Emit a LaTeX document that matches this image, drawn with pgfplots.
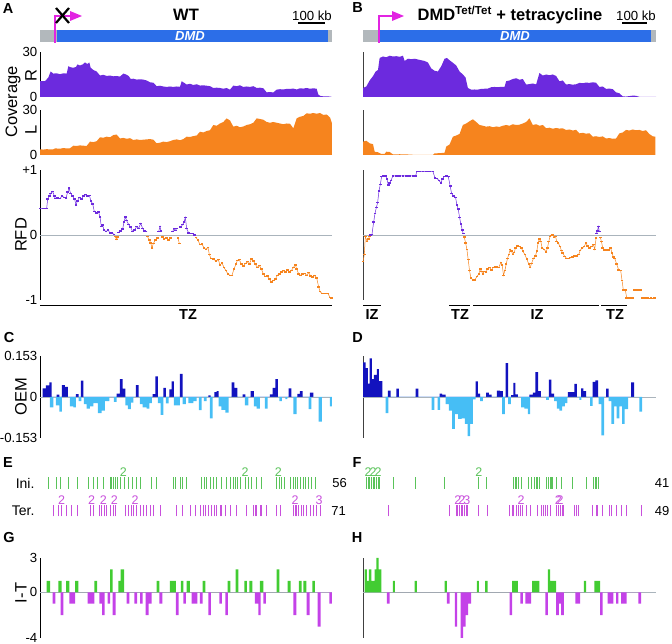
\documentclass[border=0pt]{standalone}
\usepackage{fontspec}
\setmainfont{Liberation Sans}
\usepackage{pgfplots}
\pgfplotsset{compat=1.18}
\definecolor{purp}{RGB}{108,42,222}
\definecolor{orng}{RGB}{246,132,30}
\definecolor{geneblue}{RGB}{44,110,232}
\definecolor{genegray}{RGB}{178,184,188}
\definecolor{mag}{RGB}{226,36,226}
\definecolor{oemdark}{RGB}{18,18,190}
\definecolor{oemlight}{RGB}{70,190,245}
\definecolor{grn}{RGB}{66,204,50}
\definecolor{vio}{RGB}{196,66,232}
\definecolor{zline}{RGB}{170,180,188}
\definecolor{tickgrn}{RGB}{90,195,90}
\definecolor{tickmag}{RGB}{200,80,220}
\newcommand{\tks}{\fontsize{13.2}{15}\selectfont}
\newcommand{\ttl}{\fontsize{16.5}{18}\selectfont}
\pgfplotsset{
 panel/.style={scale only axis, anchor=south west, axis x line=none, axis y line=left,
   axis line style={-, line width=0.8pt}, xtick=\empty, major tick length=0pt,
   yticklabel style={font=\tks, inner sep=1pt, xshift=-1.5pt}},
 leftp/.style={panel, width=292pt, xmin=120, xmax=996},
 rightp/.style={panel, width=293pt, xmin=70, xmax=950, ytick=\empty, axis line style={-, line width=0.8pt, black!75}},
 rowax/.style={scale only axis, anchor=south west, hide axis, ymin=0, ymax=1, clip=false},
 rfd/.style={line width=0.5pt, mark=-, mark size=1.3pt, mark options={line width=1.5pt}},
 lbl/.style={only marks, mark=none, nodes near coords, point meta=explicit symbolic,
   nodes near coords style={anchor=south, font=\fontsize{12.5}{13}\selectfont, inner sep=0.6pt}},
}
\begin{document}
\begin{tikzpicture}
\path[use as bounding box] (0pt,0pt) rectangle (672pt,644pt);
% ---------------- panel letters
\foreach \l/\x/\y in {A/8/635.5,B/357.5/636.5,C/9/306,D/357.5/306,E/8/181,F/357/181,G/9/106,H/357/106}
  \node[font=\fontsize{14.5}{16}\selectfont\bfseries] at (\x pt,\y pt) {\l};
% ---------------- gene schematics
\fill[genegray] (40pt,602pt) rectangle (332pt,614pt);
\fill[geneblue] (57pt,602pt) rectangle (328pt,614pt);
\node[white, font=\fontsize{13}{14}\selectfont\bfseries\itshape] at (190pt,608pt) {DMD};
\draw[mag, line width=2pt] (55pt,601pt) -- (55pt,628pt) -- (71pt,628pt);
\fill[mag] (70pt,633pt) -- (82pt,628pt) -- (70pt,623pt) -- cycle;
\draw[black, line width=2.2pt] (56pt,621pt) -- (69pt,636pt) (56pt,636pt) -- (69pt,621pt);
\node[font=\ttl\bfseries] at (186pt,629pt) {WT};
\node[font=\tks] at (312pt,628pt) {100 kb};
\draw[line width=2.2pt] (298pt,621pt) -- (325pt,621pt);
\fill[genegray] (363pt,602pt) rectangle (656pt,614pt);
\fill[geneblue] (380pt,602pt) rectangle (651pt,614pt);
\node[white, font=\fontsize{13}{14}\selectfont\bfseries\itshape] at (515pt,608pt) {DMD};
\draw[mag, line width=2pt] (379pt,601pt) -- (379pt,628pt) -- (393pt,628pt);
\fill[mag] (392pt,633pt) -- (404pt,628pt) -- (392pt,623pt) -- cycle;
\node[font=\ttl\bfseries] at (510pt,629pt) {DMD\textsuperscript{Tet/Tet} + tetracycline};
\node[font=\tks] at (636pt,628pt) {100 kb};
\draw[line width=2.2pt] (622pt,621pt) -- (647pt,621pt);
% ---------------- axis titles
\node[rotate=90, font=\ttl] at (13pt,542pt) {Coverage};
\node[rotate=90, font=\ttl] at (31pt,568pt) {R};
\node[rotate=90, font=\ttl] at (31pt,514pt) {L};
\node[rotate=90, font=\ttl] at (21pt,409pt) {RFD};
\node[rotate=90, font=\ttl] at (21pt,247pt) {OEM};
\node[rotate=90, font=\ttl] at (21pt,51pt) {I-T};
% ---------------- Coverage R (A)
\begin{axis}[leftp, at={(40pt,547pt)}, height=45pt, ymin=0, ymax=30, ytick={0,30}, yticklabels={0,30}]
\addplot[fill=purp, draw=none] coordinates {(120,10.5)(135,10.5)(145,13)(152,17)(160,15.6)(170,15.8)(180,15.2)(190,15.8)(200,15.6)(205,20.5)(212,19.8)(220,19.5)(228,20)(232,21.7)(240,21)(248,21.7)(255,23)(262,22)(268,23)(272,19.5)(280,18)(290,17)(300,14.3)(310,14.8)(320,14)(330,14.3)(340,13.8)(350,14)(360,13.6)(370,15.6)(378,15)(386,14)(392,12)(400,12.2)(410,11.6)(420,11.8)(430,11.6)(440,11)(450,9.8)(460,9.5)(470,7.2)(480,7.5)(490,7)(500,6.7)(510,7)(520,6.7)(530,7)(540,6.8)(545,10.5)(552,9.5)(560,8.3)(570,8.8)(580,8)(590,8.5)(600,7.6)(610,7.8)(620,7.5)(630,7.2)(640,6)(650,6.2)(660,6)(670,5.5)(680,6)(690,4.9)(700,7.6)(710,7.2)(720,7.8)(730,6.7)(740,7)(750,6.7)(760,7.2)(770,6)(780,6.2)(790,5.8)(800,3.1)(810,3.3)(820,3)(830,4.9)(840,5.2)(850,5)(860,5.4)(870,5.4)(880,5.6)(890,5)(900,5.8)(910,5.6)(920,6)(930,5.5)(940,5.8)(950,5.5)(955,1.6)(960,0.8)(970,0.4)(980,0.4)(990,0.3)(996,0)} \closedcycle;
\end{axis}
% ---------------- Coverage L (A)
\begin{axis}[leftp, at={(40pt,489pt)}, height=45pt, ymin=0, ymax=30, ytick={0,30}, yticklabels={0,30}]
\addplot[fill=orng, draw=none] coordinates {(120,3.8)(130,3.6)(140,3.9)(150,3.7)(160,3.8)(165,4.4)(180,4.2)(190,4.6)(200,4.4)(210,4.5)(220,6.2)(230,6)(240,6.4)(250,6.2)(260,6)(270,8.9)(280,8.6)(290,9.2)(300,11.8)(310,11.5)(320,12.2)(330,11.8)(340,13.3)(350,13.6)(360,11)(370,11.4)(380,10.8)(390,11.2)(400,10)(410,10.4)(420,10)(430,10.2)(440,10.4)(450,10.6)(460,10.2)(470,7.8)(480,8.2)(490,8.9)(500,8.6)(510,9.2)(520,10)(530,10.4)(540,9.8)(550,10.6)(560,12.2)(570,12)(580,12.6)(590,13)(600,15.5)(610,15)(620,16)(630,16.5)(640,20)(650,19.5)(660,21)(670,22)(680,24.4)(690,23)(700,18.9)(710,19.5)(720,18.5)(730,19)(740,20)(750,20.5)(760,21.5)(770,24.4)(780,24)(790,23.5)(800,22)(810,21.5)(820,22)(830,21.5)(840,21)(850,20.5)(860,21)(870,20.8)(880,17.8)(890,24.4)(900,25.5)(910,26)(920,27.8)(930,27.5)(940,28)(950,27.5)(960,28)(970,26.7)(980,27)(990,25)(996,21)} \closedcycle;
\end{axis}
% ---------------- Coverage R (B)
\begin{axis}[rightp, at={(363pt,547pt)}, height=45pt, ymin=0, ymax=30]
\addplot[fill=purp, draw=none] coordinates {(70,6)(80,7)(90,11)(100,13.9)(108,17)(115,18)(120,26)(130,27)(140,26.5)(150,27.5)(160,27)(170,27.2)(180,26.8)(190,27.5)(195,24)(205,25.5)(215,25.2)(225,25.5)(235,25)(245,24.5)(255,24)(265,23)(275,19)(285,17.5)(295,17)(305,20.5)(315,25.5)(322,26)(330,24.5)(340,22.8)(350,21)(360,17)(370,15)(378,13)(385,6)(395,4.9)(405,5)(415,4.9)(425,5.4)(435,5.5)(445,5.6)(455,6.5)(465,6.7)(475,6.5)(485,6.8)(495,6.7)(500,10.5)(510,11)(520,12)(530,12.5)(540,11.5)(550,12)(560,8.3)(570,8.6)(580,9)(590,8.4)(600,16)(610,14.3)(620,15)(630,14.5)(640,15)(650,14)(660,10.5)(670,11)(680,8.3)(690,8.6)(700,8.2)(710,8.5)(720,9.4)(730,9.2)(740,9.6)(750,9.4)(760,9.8)(770,9.5)(780,6.7)(790,7)(800,5.4)(810,5.6)(820,5.2)(830,3.1)(840,2.5)(850,0.4)(860,0.3)(880,0.9)(890,0.8)(900,0.1)(950,0)} \closedcycle;
\end{axis}
% ---------------- Coverage L (B)
\begin{axis}[rightp, at={(363pt,489pt)}, height=45pt, ymin=0, ymax=30]
\addplot[fill=orng, draw=none] coordinates {(70,8.9)(80,9.5)(90,7.8)(100,7.2)(105,2.2)(115,1.8)(125,0.7)(135,0.7)(140,2.2)(150,2)(160,0.4)(180,0.5)(200,0.4)(230,0)(280,0)(285,1.1)(300,1.2)(315,1.5)(320,5.6)(330,7)(340,12.2)(350,13)(360,14)(370,20)(380,21)(390,22.5)(400,23.8)(410,22)(420,20)(430,19.5)(440,18.9)(450,19.2)(460,18.5)(470,19)(480,18.7)(490,19.5)(500,20)(510,19.5)(520,20.5)(530,20)(540,20.2)(550,21)(560,22)(570,24.4)(580,20)(590,20.5)(600,19.5)(610,20)(620,17.8)(630,18.2)(640,17.5)(650,18)(660,17.6)(670,17.8)(680,16.7)(690,17)(700,16.3)(710,16.8)(720,14.4)(730,14.8)(740,14.2)(750,14.5)(760,12.2)(770,12.5)(780,12)(790,12.4)(800,11)(810,11.3)(820,10.8)(830,11)(840,14.4)(850,15)(860,16.7)(870,16.3)(880,17)(890,16.5)(900,16.7)(910,16)(920,16.5)(930,14)(940,12.5)(948,12.2)} \closedcycle;
\end{axis}
% ---------------- RFD (A)
\begin{axis}[leftp, at={(40pt,344pt)}, height=130pt, ymin=-1, ymax=1, ytick={-1,0,1}, yticklabels={-1,0,+1}]
\addplot[zline, line width=0.8pt] coordinates {(120,0)(996,0)};
\addplot[purp, rfd] coordinates {(120,0.41)(130,0.41)(140,0.41)(143,0.55)(148,0.60)(152,0.64)(158,0.67)(163,0.6)(166,0.56)(172,0.57)(180,0.56)(186,0.6)(192,0.58)(198,0.57)(203,0.66)(207,0.72)(212,0.64)(218,0.6)(224,0.55)(228,0.46)(232,0.52)(238,0.58)(244,0.55)(250,0.6)(256,0.62)(262,0.6)(268,0.61)(273,0.52)(278,0.48)(283,0.36)(290,0.34)(296,0.35)(300,0.28)(304,0.13)(308,0.15)(312,0.08)(318,0.05)(324,0.08)(330,0.03)(336,0.03)(342,0.01)};
\addplot[orng, rfd] coordinates {(345,-0.02)(350,-0.07)(353,-0.03)};
\addplot[purp, rfd] coordinates {(355,0.04)(362,0.06)(368,0.09)(372,0.2)(376,0.28)(380,0.22)(386,0.16)(392,0.12)(398,0.05)(404,0.08)(410,0.13)(416,0.1)(422,0.18)(428,0.1)(434,0.06)(438,0.05)};
\addplot[orng, rfd] coordinates {(442,-0.02)(448,-0.08)(452,-0.12)(456,-0.2)(460,-0.13)(466,-0.08)(472,-0.05)};
\addplot[purp, rfd] coordinates {(476,0.05)(480,0.13)(483,0.06)};
\addplot[orng, rfd] coordinates {(487,-0.03)(492,-0.06)(500,-0.05)(506,-0.08)(512,-0.05)};
\addplot[purp, rfd] coordinates {(518,0.05)(522,0.1)(526,0.07)(530,0.1)};
\addplot[orng, rfd] coordinates {(534,-0.05)(538,-0.13)};
\addplot[purp, rfd] coordinates {(542,0.12)(548,0.16)(552,0.2)(556,0.27)(560,0.1)(566,0.03)(572,0.02)(578,0.02)(584,0.0)};
\addplot[orng, rfd] coordinates {(588,-0.04)(594,-0.08)(600,-0.15)(606,-0.14)(612,-0.2)(618,-0.22)(624,-0.19)(628,-0.3)(633,-0.36)(640,-0.37)(648,-0.4)(655,-0.38)(660,-0.46)(666,-0.43)(672,-0.5)(678,-0.55)(684,-0.6)(690,-0.62)(696,-0.62)(702,-0.52)(708,-0.45)(712,-0.39)(718,-0.38)(724,-0.45)(730,-0.48)(736,-0.44)(742,-0.41)(748,-0.45)(754,-0.37)(760,-0.4)(766,-0.45)(772,-0.5)(778,-0.47)(784,-0.52)(790,-0.6)(796,-0.64)(802,-0.63)(808,-0.68)(814,-0.72)(820,-0.7)(826,-0.68)(832,-0.62)(838,-0.6)(844,-0.57)(850,-0.55)(856,-0.57)(862,-0.54)(868,-0.57)(874,-0.55)(880,-0.5)(886,-0.46)(890,-0.52)(896,-0.6)(902,-0.62)(908,-0.6)(914,-0.59)(920,-0.62)(926,-0.58)(932,-0.63)(938,-0.65)(944,-0.62)(950,-0.66)(956,-0.8)(960,-0.87)(966,-0.9)(972,-0.9)(978,-0.9)(984,-0.9)(990,-0.96)(995,-0.97)};
\end{axis}
\draw[line width=1pt] (40pt,338.3pt) -- (332pt,338.3pt);
\node[font=\fontsize{14.5}{16}\selectfont\bfseries] at (188pt,329pt) {TZ};
% ---------------- RFD (B)
\begin{axis}[rightp, at={(363pt,344pt)}, height=130pt, ymin=-1, ymax=1]
\addplot[zline, line width=0.8pt] coordinates {(70,0)(950,0)};
\addplot[orng, rfd] coordinates {(70,-0.41)(74,-0.3)(77,-0.02)(82,-0.1)(86,-0.06)(90,-0.02)};
\addplot[purp, rfd] coordinates {(92,0.0)(97,0.01)(102,0.2)(106,0.33)(110,0.42)(114,0.5)(118,0.68)(122,0.78)(126,0.9)(132,0.91)(138,0.91)(142,0.86)(146,0.77)(150,0.8)(154,0.84)(160,0.91)(170,0.91)(180,0.91)(190,0.91)(200,0.91)(210,0.91)(220,0.91)(228,0.91)(232,0.98)(240,0.98)(250,0.98)(260,0.98)(270,0.98)(280,0.98)(286,0.88)(292,0.87)(298,0.84)(304,0.8)(308,0.86)(314,0.9)(320,0.91)(326,0.9)(332,0.75)(336,0.64)(342,0.6)(348,0.58)(352,0.46)(356,0.4)(360,0.27)(364,0.17)(368,0.08)(371,0.02)};
\addplot[orng, rfd] coordinates {(374,-0.03)(378,-0.12)(382,-0.22)(386,-0.38)(390,-0.55)(394,-0.66)(400,-0.69)(406,-0.69)(412,-0.64)(418,-0.6)(422,-0.52)(426,-0.56)(430,-0.6)(434,-0.56)(440,-0.57)(444,-0.52)(450,-0.5)(456,-0.54)(460,-0.5)(466,-0.49)(472,-0.49)(478,-0.5)(484,-0.42)(488,-0.46)(492,-0.62)(496,-0.55)(500,-0.45)(504,-0.36)(508,-0.3)(512,-0.22)(516,-0.25)(520,-0.3)(524,-0.27)(528,-0.2)(534,-0.17)(540,-0.18)(546,-0.2)(550,-0.25)(556,-0.3)(562,-0.37)(568,-0.45)(572,-0.5)(576,-0.44)(582,-0.36)(588,-0.32)(592,-0.25)(596,-0.12)(600,-0.06)(604,-0.1)(608,-0.2)(614,-0.22)(620,-0.26)(624,-0.2)(628,-0.1)(632,-0.02)(636,-0.01)(640,0.0)(644,-0.04)(648,-0.02)(652,-0.1)(656,-0.12)(662,-0.18)(666,-0.24)(670,-0.28)(676,-0.33)(682,-0.36)(688,-0.36)(694,-0.35)(700,-0.34)(706,-0.32)(712,-0.32)(718,-0.3)(722,-0.24)(728,-0.2)(734,-0.18)(740,-0.12)(744,-0.17)(750,-0.2)(756,-0.18)(762,-0.15)(766,-0.22)(770,-0.05)};
\addplot[purp, rfd] coordinates {(771,0.02)(774,0.06)(777,0.13)(780,0.05)};
\addplot[orng, rfd] coordinates {(783,-0.04)(786,-0.1)(790,-0.2)(796,-0.23)(802,-0.23)(808,-0.23)(814,-0.2)(818,-0.28)(822,-0.34)(826,-0.36)(832,-0.45)(838,-0.54)(844,-0.55)(848,-0.7)(852,-0.85)(858,-0.85)(862,-0.97)(868,-0.97)(874,-0.97)(880,-0.97)};
\addplot[orng, rfd] coordinates {(886,-0.85)(892,-0.85)(898,-0.85)(904,-0.85)};
\addplot[orng, rfd] coordinates {(908,-0.97)(915,-0.97)(925,-0.97)(935,-0.97)(945,-0.97)};
\end{axis}
\draw[line width=1pt] (363pt,338.3pt) -- (381pt,338.3pt) (449pt,338.3pt) -- (470pt,338.3pt)
  (473pt,338.3pt) -- (599pt,338.3pt) (601pt,338.3pt) -- (627pt,338.3pt);
\foreach \t/\x in {IZ/372,TZ/460,IZ/537,TZ/615}
  \node[font=\fontsize{14.5}{16}\selectfont\bfseries] at (\x pt,329pt) {\t};
% ---------------- OEM (C)
\begin{axis}[leftp, at={(40pt,206pt)}, height=82pt, ymin=-0.153, ymax=0.153, ytick={-0.153,0,0.153}, yticklabels={-0.153,0,0.153}]
\addplot[zline, line width=0.8pt] coordinates {(120,0)(996,0)};
\addplot[ybar interval, fill=oemdark, draw=none] coordinates {(128,0.032)(138,0.043)(148,0.055)(155,0)(170,0.009)(178,0)(186,0.044)(195,0.038)(204,0)(228,0.011)(236,0)(243,0.061)(250,0)(350,0.013)(360,0.067)(368,0.031)(376,0)(408,0.044)(416,0)(458,0.011)(466,0.077)(474,0)(490,0.034)(498,0)(508,0.028)(515,0.058)(522,0)(540,0.086)(548,0)(625,0.006)(632,0)(643,0.018)(650,0.022)(656,0)(695,0.055)(703,0.034)(712,0)(728,0.01)(736,0)(752,0.022)(762,0)(810,0.01)(818,0.034)(826,0.067)(834,0)(866,0.032)(874,0)(892,0.012)(900,0.022)(908,0)(930,0.016)(940,0)};
\addplot[ybar interval, fill=oemlight, draw=none] coordinates {(150,-0.039)(160,0)(168,-0.031)(178,-0.055)(186,0)(210,-0.035)(220,-0.039)(228,0)(236,-0.015)(244,0)(252,-0.027)(260,-0.043)(270,-0.035)(280,-0.023)(294,-0.06)(305,-0.051)(315,-0.015)(328,0)(342,-0.018)(350,0)(376,-0.031)(384,-0.045)(393,-0.021)(400,0)(420,-0.027)(428,-0.039)(440,-0.043)(448,-0.023)(456,0)(474,-0.023)(482,-0.067)(490,0)(498,-0.024)(506,0)(522,-0.031)(540,0)(548,-0.027)(558,0)(565,-0.023)(580,-0.015)(590,0)(597,-0.049)(605,0)(612,-0.015)(620,0)(630,-0.08)(638,0)(656,-0.035)(664,-0.048)(676,-0.058)(686,0)(735,-0.031)(745,0)(762,-0.035)(770,-0.043)(780,0)(795,-0.043)(803,0)(838,-0.015)(846,0)(856,-0.008)(862,0)(880,-0.064)(890,0)(926,-0.045)(934,0)(956,-0.092)(966,0)(990,-0.035)(998,0)};
\end{axis}
% ---------------- OEM (D)
\begin{axis}[rightp, at={(363pt,206pt)}, height=82pt, ymin=-0.153, ymax=0.153]
\addplot[zline, line width=0.8pt] coordinates {(70,0)(950,0)};
\addplot[ybar interval, fill=oemdark, draw=none] coordinates {(70,0.129)(78,0.108)(85,0.05)(90,0.144)(97,0.067)(103,0.083)(112,0.104)(118,0.059)(128,0)(145,0.024)(153,0)(170,0.031)(178,0)(228,0.031)(236,0)(300,0.013)(308,0.009)(318,0)(408,0.058)(415,0.013)(422,0)(440,0.016)(448,0.009)(456,0)(472,0.024)(482,0.022)(490,0)(498,0.126)(506,0)(515,0.007)(522,0.053)(528,0.01)(535,0)(570,0.009)(580,0.016)(588,0.093)(596,0.022)(604,0)(628,0.065)(636,0.013)(644,0)(685,0.018)(705,0.049)(712,0)(725,0.032)(732,0.022)(740,0)(760,0.056)(768,0.062)(776,0)(800,0.031)(808,0)(875,0.055)(884,0)};
\addplot[ybar interval, fill=oemlight, draw=none] coordinates {(138,-0.06)(146,0)(276,-0.048)(284,0)(294,-0.048)(302,0)(318,-0.027)(328,-0.051)(338,-0.119)(346,-0.064)(356,-0.082)(366,-0.08)(376,-0.1)(384,-0.146)(392,-0.1)(400,-0.009)(408,0)(422,-0.015)(430,0)(488,-0.064)(496,0)(506,-0.027)(514,0)(545,-0.039)(555,-0.043)(565,-0.064)(572,0)(620,-0.011)(628,0)(644,-0.015)(652,-0.043)(660,-0.051)(668,-0.035)(676,-0.023)(684,0)(720,-0.011)(726,0)(752,-0.033)(760,0)(778,-0.027)(786,-0.143)(794,0)(808,-0.015)(816,-0.1)(824,-0.035)(832,-0.08)(840,-0.035)(848,-0.1)(856,-0.045)(866,0)(900,-0.055)(908,0)};
\end{axis}
% ---------------- Initiation / termination events (E)
\node[font=\fontsize{14}{15}\selectfont, anchor=east] at (38pt,161pt) {Ini.};
\node[font=\fontsize{14}{15}\selectfont, anchor=east] at (38pt,133pt) {Ter.};
\begin{axis}[rowax, at={(40pt,155pt)}, width=292pt, height=11.5pt, xmin=120, xmax=996]
\addplot[ycomb, tickgrn, line width=0.9pt, mark=none] coordinates {(145,1)(170,1)(182,1)(205,1)(232,1)(265,1)(280,1)(292,1)(310,1)(330,1)(335,1)(340,1)(345,1)(352,1)(362,1)(372,1)(385,1)(398,1)(410,1)(420,1)(455,1)(470,1)(520,1)(527,1)(540,1)(548,1)(560,1)(605,1)(612,1)(618,1)(630,1)(640,1)(650,1)(665,1)(678,1)(690,1)(700,1)(707,1)(712,1)(720,1)(735,1)(745,1)(755,1)(770,1)(785,1)(830,1)(838,1)(845,1)(852,1)(870,1)(880,1)(887,1)(893,1)(900,1)(910,1)(915,1)(925,1)(935,1)(945,1)};
\addplot[lbl, nodes near coords style={text=tickgrn}] coordinates {(370,1)[2](735,1)[2](835,1)[2]};
\end{axis}
\begin{axis}[rowax, at={(40pt,127.5pt)}, width=292pt, height=11.5pt, xmin=120, xmax=996]
\addplot[ycomb, tickmag, line width=0.9pt, mark=none] coordinates {(160,1)(175,1)(185,1)(200,1)(215,1)(232,1)(270,1)(280,1)(298,1)(305,1)(312,1)(318,1)(330,1)(340,1)(345,1)(375,1)(385,1)(395,1)(400,1)(410,1)(420,1)(430,1)(440,1)(450,1)(460,1)(480,1)(530,1)(548,1)(570,1)(585,1)(600,1)(610,1)(615,1)(625,1)(635,1)(642,1)(650,1)(660,1)(665,1)(675,1)(690,1)(710,1)(740,1)(760,1)(765,1)(770,1)(780,1)(785,1)(800,1)(830,1)(840,1)(880,1)(885,1)(890,1)(895,1)(905,1)(910,1)(920,1)(930,1)(940,1)(950,1)(960,1)};
\addplot[lbl, nodes near coords style={text=tickmag}] coordinates {(185,1)[2](275,1)[2](310,1)[2](343,1)[2](405,1)[2](885,1)[2](957,1)[3]};
\end{axis}
\node[font=\fontsize{13}{14}\selectfont] at (339.5pt,161pt) {56};
\node[font=\fontsize{13}{14}\selectfont] at (338.5pt,133pt) {71};
% ---------------- (F)
\begin{axis}[rowax, at={(363pt,155pt)}, width=293pt, height=11.5pt, xmin=70, xmax=950]
\addplot[ycomb, tickgrn, line width=0.9pt, mark=none] coordinates {(80,1)(85,1)(90,1)(95,1)(100,1)(105,1)(110,1)(115,1)(120,1)(160,1)(228,1)(315,1)(418,1)(440,1)(522,1)(527,1)(532,1)(537,1)(545,1)(568,1)(575,1)(585,1)(590,1)(595,1)(600,1)(622,1)(627,1)(632,1)(637,1)(640,1)(650,1)(665,1)(700,1)(740,1)(762,1)(767,1)(772,1)(777,1)};
\addplot[lbl, nodes near coords style={text=tickgrn}] coordinates {(85,1)[2](100,1)[2](115,1)[2](418,1)[2]};
\end{axis}
\begin{axis}[rowax, at={(363pt,127.5pt)}, width=293pt, height=11.5pt, xmin=70, xmax=950]
\addplot[ycomb, tickmag, line width=0.9pt, mark=none] coordinates {(145,1)(330,1)(350,1)(355,1)(360,1)(365,1)(370,1)(375,1)(380,1)(385,1)(418,1)(445,1)(510,1)(518,1)(523,1)(530,1)(537,1)(542,1)(550,1)(560,1)(572,1)(595,1)(605,1)(612,1)(618,1)(625,1)(632,1)(652,1)(657,1)(662,1)(668,1)(672,1)(705,1)(712,1)(718,1)(760,1)(770,1)(775,1)(790,1)(810,1)(815,1)(830,1)(845,1)(860,1)(905,1)};
\addplot[lbl, nodes near coords style={text=tickmag}] coordinates {(355,1)[2](367,1)[2](382,1)[3](545,1)[2](657,1)[2](662,1)[2]};
\end{axis}
\node[font=\fontsize{13}{14}\selectfont] at (662pt,161pt) {41};
\node[font=\fontsize{13}{14}\selectfont] at (662pt,133pt) {49};
% ---------------- I-T (G)
\begin{axis}[leftp, at={(40pt,6pt)}, height=80pt, ymin=-4, ymax=3, ytick={-4,0,3}, yticklabels={-4,0,3}]
\addplot[zline, line width=0.8pt] coordinates {(120,0)(996,0)};
\addplot[ybar interval, fill=grn, draw=none] coordinates {(140,1)(150,0)(175,1)(185,0)(198,1)(208,0)(225,1)(235,0)(283,1)(291,0)(330,2)(338,0)(355,1)(362,2)(372,0)(470,1)(478,0)(510,1)(528,0)(543,1)(550,0)(560,1)(570,0)(608,1)(616,0)(683,1)(691,0)(707,2)(715,0)(733,1)(741,0)(748,1)(757,0)(780,1)(790,0)(830,2)(838,0)(863,1)(872,0)(897,1)(905,0)(910,1)(919,0)(937,1)(945,0)};
\addplot[ybar interval, fill=vio, draw=none] coordinates {(158,-1)(166,0)(182,-2)(190,0)(208,-1)(225,0)(263,-1)(283,0)(298,-1)(306,-2)(314,0)(323,-1)(330,0)(338,-2)(347,0)(380,-1)(388,0)(403,-1)(411,0)(420,-1)(428,0)(437,-2)(446,-1)(455,0)(478,-1)(487,0)(528,-2)(536,0)(550,-1)(558,0)(575,-1)(592,0)(600,-1)(608,0)(625,-2)(633,0)(658,-1)(666,0)(676,-2)(684,0)(765,-1)(775,-2)(782,0)(790,-1)(798,0)(880,-2)(889,0)(920,-2)(929,0)(953,-3)(962,0)(988,-1)(997,0)};
\end{axis}
% ---------------- I-T (H)
\begin{axis}[rightp, at={(363pt,6pt)}, height=80pt, ymin=-4, ymax=3]
\addplot[zline, line width=0.8pt] coordinates {(70,0)(950,0)};
\addplot[ybar interval, fill=grn, draw=none] coordinates {(75,2)(82,1)(88,2)(95,1)(105,2)(110,3)(117,2)(125,0)(160,1)(166,0)(225,1)(232,0)(315,1)(322,0)(412,1)(418,0)(437,1)(444,0)(518,1)(535,0)(578,1)(600,0)(625,2)(632,1)(650,0)(733,1)(740,0)(765,1)(782,0)};
\addplot[ybar interval, fill=vio, draw=none] coordinates {(142,-1)(150,0)(322,-1)(330,0)(346,-3)(353,0)(363,-4)(371,-3)(378,-2)(386,-1)(395,0)(510,-2)(518,0)(543,-1)(550,0)(558,-1)(575,0)(618,-2)(625,0)(650,-2)(658,-1)(665,-2)(673,0)(708,-1)(722,0)(782,-2)(790,0)(805,-1)(822,0)(830,-1)(837,0)(845,-1)(862,0)(897,-1)(905,0)};
\end{axis}
\end{tikzpicture}
\end{document}
